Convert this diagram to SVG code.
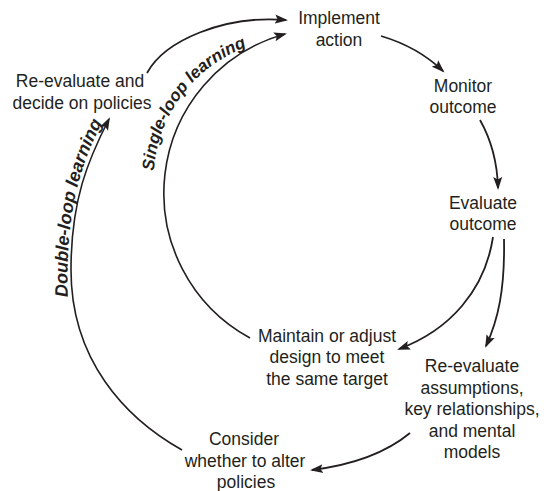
<svg xmlns="http://www.w3.org/2000/svg" width="550" height="491" viewBox="0 0 550 491">
<style>
.lbl{font-family:"Liberation Sans",Arial,sans-serif;font-size:17.5px;fill:#231f20;text-anchor:middle}
.loop{font-family:"Liberation Sans",Arial,sans-serif;font-size:18px;font-weight:bold;font-style:italic;fill:#231f20;text-anchor:middle}
.c{fill:none;stroke:#231f20;stroke-width:1.8;marker-end:url(#ah)}
.c2{fill:none;stroke:#231f20;stroke-width:1.6;marker-end:url(#ah)}
</style>
<defs>
<marker id="ah" markerUnits="userSpaceOnUse" markerWidth="14" markerHeight="10" viewBox="0 0 14 10" refX="11" refY="5" orient="auto">
<path d="M0,0.5 L13,5 L0,9.5 L2.5,5 z" fill="#231f20"/>
</marker>
<path id="tpSingle" d="M154,168 A143,143 0 0,1 244,48"/>
<path id="tpDouble" d="M68,302 C66,240 70,180 105,118"/>
</defs>
<rect width="550" height="491" fill="#ffffff"/>
<g id="connectors">
<path class="c" d="M147,73 C165,40 225,15 286,20"/>
<path class="c2" d="M250,338 A165,165 0 0,1 285,34"/>
<path class="c2" d="M182,450 C125,418 71,360 71,270 C71,200 88,160 109,119"/>
<path class="c" d="M381,36 Q418,47 443,71"/>
<path class="c" d="M480,120 Q497,150 498,188"/>
<path class="c" d="M493,237 C485,290 450,330 399,349"/>
<path class="c" d="M504,239 C505,290 498,320 486,346"/>
<path class="c" d="M410,433 Q375,462 312,470"/>
</g>
<g id="loop-labels">
<text class="loop" style="font-size:17px"><textPath href="#tpSingle" startOffset="50%">Single-loop learning</textPath></text>
<text class="loop"><textPath href="#tpDouble" startOffset="50%">Double-loop learning</textPath></text>
</g>
<g id="implement"><text class="lbl" x="339" y="24">Implement</text><text class="lbl" x="339" y="46">action</text></g>
<g id="monitor"><text class="lbl" x="463" y="92">Monitor</text><text class="lbl" x="463" y="113">outcome</text></g>
<g id="evaluate"><text class="lbl" x="483" y="209">Evaluate</text><text class="lbl" x="483" y="230">outcome</text></g>
<g id="maintain"><text class="lbl" x="327" y="342">Maintain or adjust</text><text class="lbl" x="327" y="363">design to meet</text><text class="lbl" x="327" y="385">the same target</text></g>
<g id="reevaluate-assumptions"><text class="lbl" x="472" y="372">Re-evaluate</text><text class="lbl" x="472" y="394">assumptions,</text><text class="lbl" x="472" y="415">key relationships,</text><text class="lbl" x="472" y="437">and mental</text><text class="lbl" x="472" y="458">models</text></g>
<g id="consider"><text class="lbl" x="244" y="445">Consider</text><text class="lbl" x="245" y="467">whether to alter</text><text class="lbl" x="246" y="488">policies</text></g>
<g id="reevaluate-policies"><text class="lbl" x="80" y="87">Re-evaluate and</text><text class="lbl" x="82" y="109">decide on policies</text></g>
</svg>
